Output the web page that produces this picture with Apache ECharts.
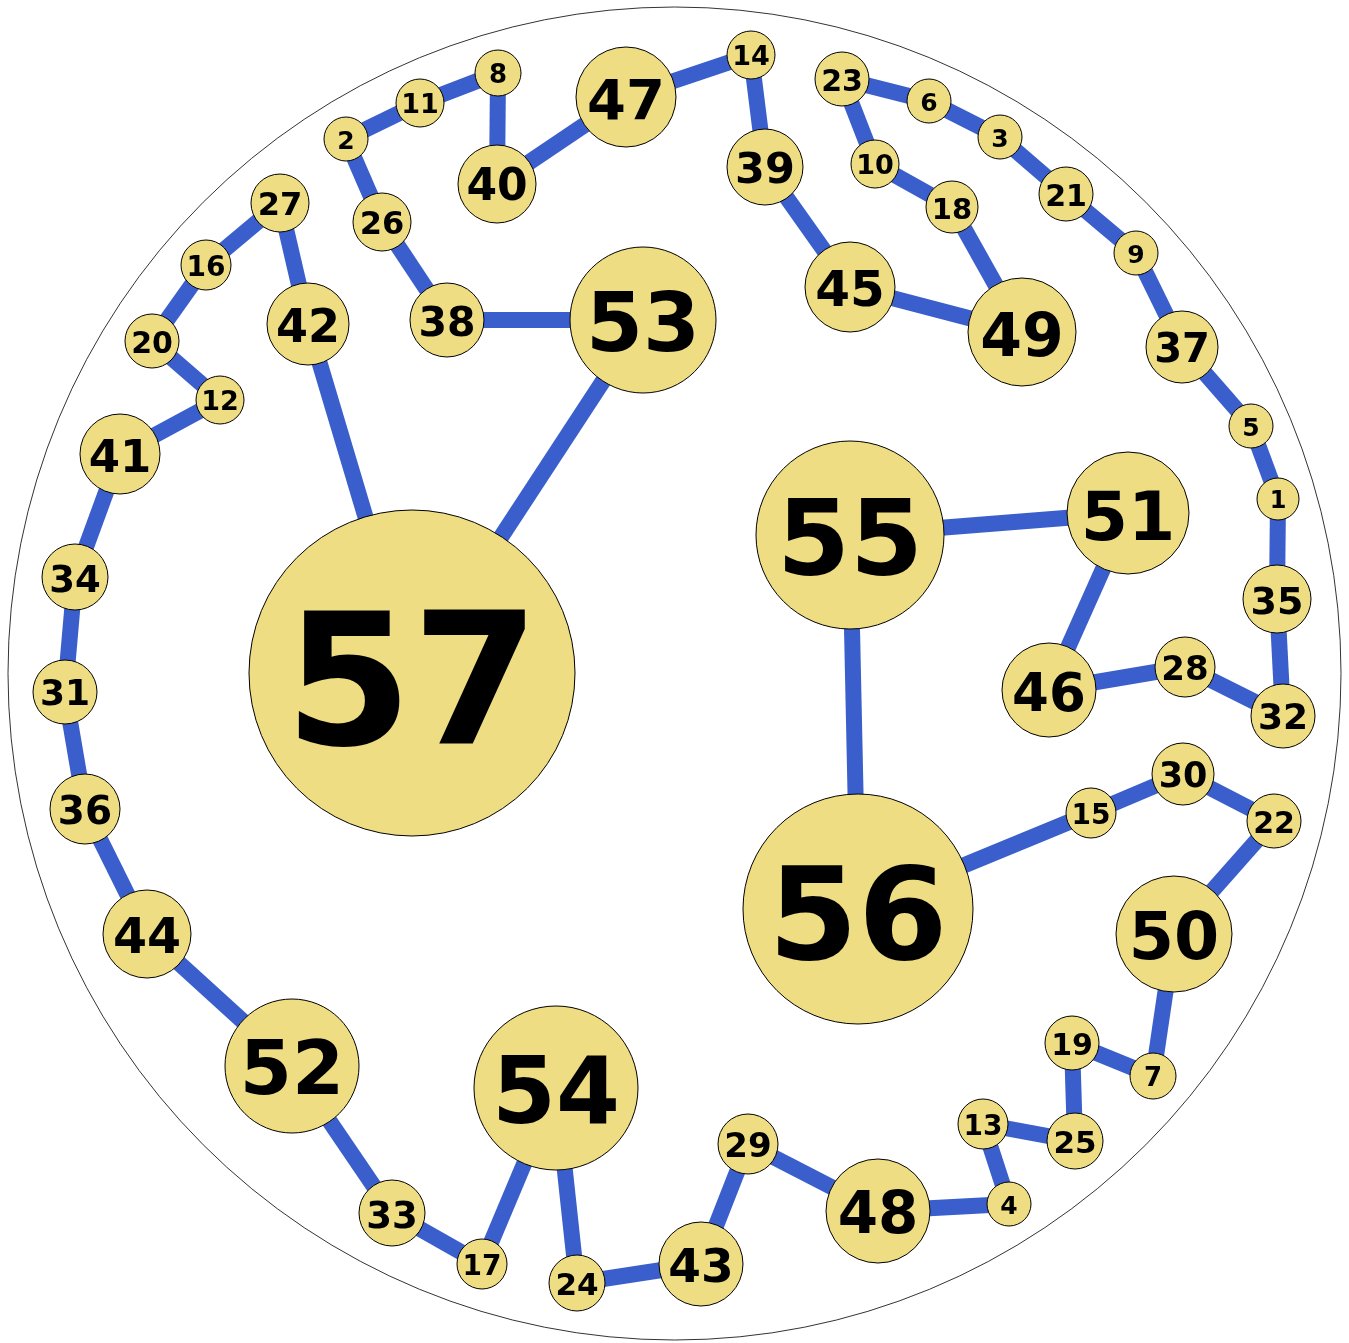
<!DOCTYPE html>
<html lang="en">
<head>
    <meta charset="UTF-8">
    <title>Ring graph</title>
    <script src="https://cdn.jsdelivr.net/npm/echarts@6/dist/echarts.min.js"></script>
    <style>
        html, body {margin: 0; padding: 0; background: #fff;}
    </style>
</head>
<body>
<div id="graph" style="width: 1349px;height:1343px;"></div>
<script type="text/javascript">
    // node labels, centre positions (px) and radii
    var nodeIds = [1, 2, 3, 4, 5, 6, 7, 8, 9, 10,
        11, 12, 13, 14, 15, 16, 17, 18, 19, 20,
        21, 22, 23, 24, 25, 26, 27, 28, 29, 30,
        31, 32, 33, 34, 35, 36, 37, 38, 39, 40,
        41, 42, 43, 44, 45, 46, 47, 48, 49, 50,
        51, 52, 53, 54, 55, 56, 57];
    var nodeX = [1278, 346, 1000, 1009, 1251, 929, 1153, 498, 1136, 875,
        420, 220, 983, 751, 1091, 206, 482, 952, 1072, 152,
        1066, 1274, 842, 577, 1075, 382, 280, 1185, 748, 1183,
        65, 1283, 392, 75, 1277, 85, 1182, 447, 765, 497,
        120, 308, 701, 147, 850, 1049, 626, 878, 1022, 1174,
        1128, 292, 643, 556, 850, 858, 412];
    var nodeY = [499, 139, 137, 1204, 426, 101, 1076, 73, 253, 164,
        103, 400, 1124, 55, 813, 265, 1264, 207, 1043, 341,
        194, 821, 79, 1283, 1141, 222, 203, 667, 1144, 774,
        692, 716, 1213, 577, 599, 809, 347, 320, 167, 184,
        454, 324, 1264, 934, 287, 690, 97, 1211, 332, 934,
        513, 1066, 320, 1088, 535, 909, 673];
    var nodeR = [21, 22, 22, 22, 22, 22, 23, 23, 22, 24,
        24, 24, 25, 24, 25, 25, 25, 26, 27, 27,
        27, 27, 27, 28, 28, 29, 29, 30, 30, 31,
        32, 32, 33, 33, 34, 35, 36, 37, 38, 39,
        40, 41, 42, 44, 45, 47, 50, 52, 54, 58,
        61, 67, 73, 82, 94, 115, 163];
    var edges = [
        [57, 42], [57, 53], [53, 38], [38, 26], [26, 2], [2, 11], [11, 8], [8, 40],
        [40, 47], [47, 14], [14, 39], [39, 45], [45, 49], [49, 18], [18, 10], [10, 23],
        [23, 6], [6, 3], [3, 21], [21, 9], [9, 37], [37, 5], [5, 1], [1, 35],
        [35, 32], [32, 28], [28, 46], [46, 51], [51, 55], [55, 56], [56, 15], [15, 30],
        [30, 22], [22, 50], [50, 7], [7, 19], [19, 25], [25, 13], [13, 4], [4, 48],
        [48, 29], [29, 43], [43, 24], [24, 54], [54, 17], [17, 33], [33, 52], [52, 44],
        [44, 36], [36, 31], [31, 34], [34, 41], [41, 12], [12, 20], [20, 16], [16, 27],
        [27, 42]
    ];
    // outer ring: centre and diameter
    var ringCenter = [674.5, 673.5];
    var ringDiameter = 1333;

    var chart = echarts.init(document.getElementById('graph'));

    var nodes = nodeIds.map(function (id, i) {
        var r = nodeR[i];
        return {
            name: String(id),
            value: [nodeX[i], nodeY[i]],
            symbolSize: r * 2,
            label: {fontSize: Math.round(r * 1.12), offset: [0, Math.round(r * 0.14)]}
        };
    });
    var links = edges.map(function (e) {
        return {source: String(e[0]), target: String(e[1])};
    });

    var option = {
        animation: false,
        grid: {left: 0, right: 0, top: 0, bottom: 0},
        xAxis: {type: 'value', min: 0, max: 1349, show: false},
        yAxis: {type: 'value', min: 0, max: 1343, inverse: true, show: false},
        series: [
            {
                type: 'scatter',
                silent: true,
                symbolSize: ringDiameter,
                itemStyle: {color: 'rgba(0,0,0,0)', borderColor: '#000', borderWidth: 1},
                data: [ringCenter],
                z: 1
            },
            {
                type: 'graph',
                coordinateSystem: 'cartesian2d',
                layout: 'none',
                z: 2,
                itemStyle: {color: '#EEDD82', borderColor: '#000', borderWidth: 1},
                lineStyle: {color: '#3A5FCD', width: 16, opacity: 1},
                label: {
                    show: true,
                    position: 'inside',
                    color: '#000',
                    fontWeight: 'bold',
                    fontFamily: 'DejaVu Sans'
                },
                data: nodes,
                links: links
            }
        ]
    };

    chart.setOption(option);
</script>
</body>
</html>
